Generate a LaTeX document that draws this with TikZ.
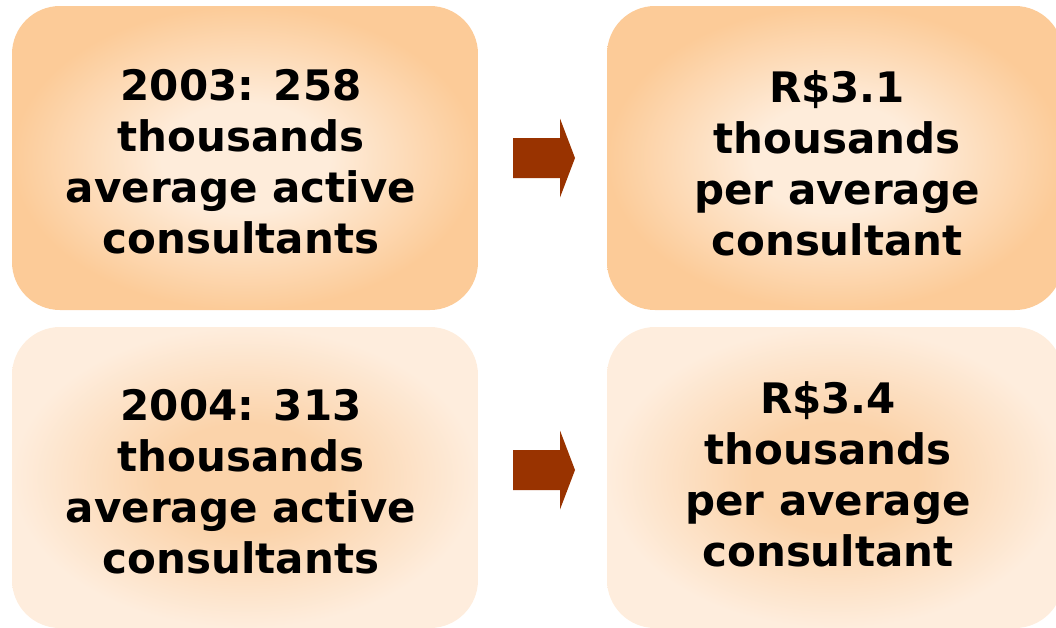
\documentclass[tikz,border=0pt]{standalone}
\usepackage{fontspec}
\setmainfont{DejaVu Sans}
\usetikzlibrary{calc}

% box fills: peach rim with a pale core (2003 row), pale rim with a warm core (2004 row)
\definecolor{peachedge}{RGB}{252,203,152}
\definecolor{peachcore}{RGB}{254,236,218}
\definecolor{creamedge}{RGB}{254,237,221}
\definecolor{creamcore}{RGB}{251,211,170}
\definecolor{arrowrust}{RGB}{153,51,0}

\pgfdeclareradialshading{palecore}{\pgfpoint{0bp}{0bp}}{%
  color(0bp)=(peachcore); color(9bp)=(peachcore);
  color(25bp)=(peachedge); color(50bp)=(peachedge)}
\pgfdeclareradialshading{warmcore}{\pgfpoint{0bp}{0bp}}{%
  color(0bp)=(creamcore); color(9bp)=(creamcore);
  color(25bp)=(creamedge); color(50bp)=(creamedge)}

% filled block arrow centred on a coordinate
\newcommand\blockarrow[1]{%
  \fill[arrowrust] (#1) ++(-31,-20) -- ++(47,0) -- ++(0,-19.5) -- ++(15,39.5)
    -- ++(-15,39.5) -- ++(0,-19.5) -- ++(-47,0) -- cycle;}

\begin{document}
\begin{tikzpicture}[x=1pt,y=-1pt,
  box/.style={rectangle, rounded corners=48pt, inner sep=0pt},
  toprow/.style={box, shading=palecore, minimum height=304pt},
  botrow/.style={box, shading=warmcore, minimum height=301pt},
  caption/.style={inner sep=0pt, align=center, text=black,
    font=\fontsize{42}{51}\selectfont\bfseries},
]
\useasboundingbox (0,0) rectangle (1056,627);

\node[toprow, minimum width=466pt] (a1) at (245,158) {};
\node[toprow, minimum width=456pt] (a2) at (835,158) {};
\node[botrow, minimum width=466pt] (b1) at (245,477.5) {};
\node[botrow, minimum width=456pt] (b2) at (835,477.5) {};

\node[caption] (ta1) at ($(a1.center)+(-4,4)$)
  {2003: 258\\thousands\\average active\\consultants};
\node[caption] (ta2) at ($(a2.center)+(2,5)$)
  {R\$3.1\\thousands\\per average\\consultant};
\node[caption] (tb1) at ($(b1.center)+(-4,4.5)$)
  {2004: 313\\thousands\\average active\\consultants};
\node[caption] (tb2) at ($(b2.center)+(-7,-3.5)$)
  {R\$3.4\\thousands\\per average\\consultant};

\coordinate (m1) at (544,158);
\coordinate (m2) at (544,470);
\blockarrow{m1}
\blockarrow{m2}
\end{tikzpicture}
\end{document}
